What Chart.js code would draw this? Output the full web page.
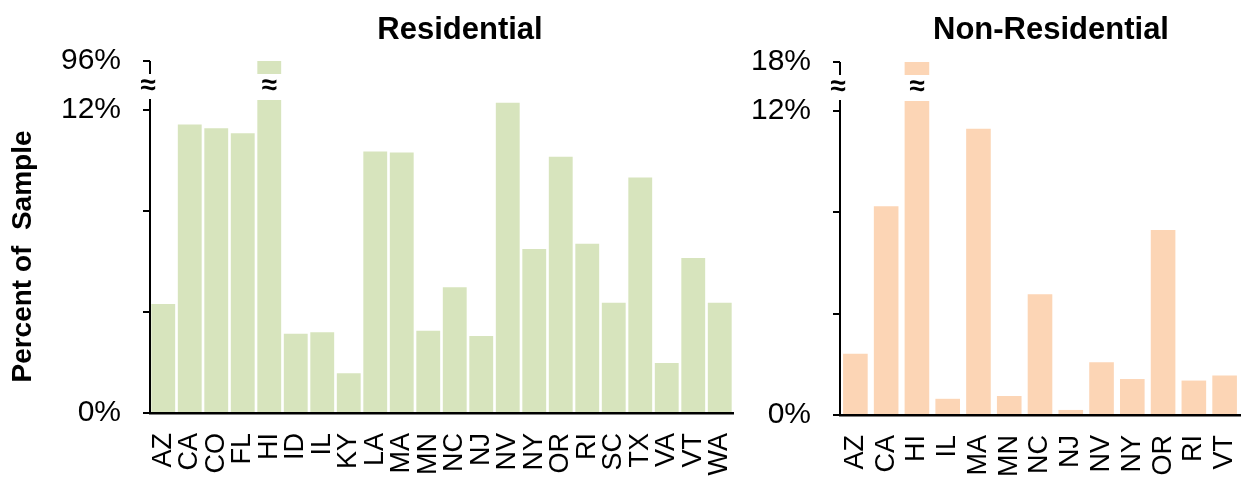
<!DOCTYPE html>
<html>
<head>
<meta charset="utf-8">
<script src="https://cdn.jsdelivr.net/npm/chart.js@4/dist/chart.umd.min.js"></script>
<style>
    body { margin: 0; background: #fff; }
    #wrap { position: relative; width: 1243px; height: 483px; }
    .panel { position: absolute; top: 0; height: 483px; }
</style>
</head>
<body>
<div id="wrap">
    <div class="panel" style="left:0;width:745px"><canvas id="residential-chart"></canvas></div>
    <div class="panel" style="left:745px;width:498px"><canvas id="non-residential-chart"></canvas></div>
</div>
<script>
const residentialStates = ['AZ', 'CA', 'CO', 'FL', 'HI', 'ID', 'IL', 'KY', 'LA', 'MA', 'MN',
    'NC', 'NJ', 'NV', 'NY', 'OR', 'RI', 'SC', 'TX', 'VA', 'VT', 'WA'];
const residentialPct = [4.32, 11.43, 11.28, 11.08, 96, 3.14, 3.2, 1.57, 10.36, 10.32, 3.26,
    4.98, 3.05, 12.29, 6.5, 10.15, 6.71, 4.37, 9.33, 1.98, 6.14, 4.37];

const nonResidentialStates = ['AZ', 'CA', 'HI', 'IL', 'MA', 'MN', 'NC', 'NJ', 'NV', 'NY', 'OR', 'RI', 'VT'];
const nonResidentialPct = [2.42, 8.24, 18, 0.64, 11.3, 0.75, 4.77, 0.2, 2.08, 1.42, 7.31, 1.36, 1.56];

// lower (unbroken) part of the y axis
const lowerMax = 12.4;
const lowerStep = 2;
const labeledTicks = [0, 12];

const FONT = '"Liberation Sans", Arial, sans-serif';

// draws the axis break marks and the panel title
const breakMarks = {
    id: 'breakMarks',
    afterDatasetsDraw(chart, args, opts) {
        const { ctx, chartArea } = chart;
        const low = chart.scales.y;
        const top = chart.scales.yTop;
        const x = chart.scales.x;
        const ax = chartArea.left;
        const topY = top.getPixelForValue(opts.topMax);
        const breakY = top.getPixelForValue(opts.breakLow);
        const gapY = (breakY + low.getPixelForValue(lowerMax)) / 2;

        ctx.save();
        ctx.strokeStyle = '#000';
        ctx.lineWidth = 2;
        ctx.beginPath();
        ctx.moveTo(ax, topY);
        ctx.lineTo(ax, breakY);
        ctx.stroke();

        ctx.fillStyle = '#000';
        ctx.font = 'bold 28px ' + FONT;
        ctx.textAlign = 'center';
        ctx.textBaseline = 'middle';
        ctx.fillText('≈', ax - 2, gapY - 1);
        opts.values.forEach((v, i) => {
            if (v > lowerMax) ctx.fillText('≈', x.getPixelForValue(i), gapY - 1);
        });

        ctx.font = 'bold 31px ' + FONT;
        ctx.textBaseline = 'alphabetic';
        ctx.fillText(opts.title, opts.titleX, 39);
        ctx.restore();
    }
};

function renderBrokenBarChart(canvasId, cfg) {
    const elm = document.getElementById(canvasId);
    if (!elm) return;

    const topMax = Math.max(...cfg.values);
    const breakLow = topMax - 1;

    new Chart(elm.getContext('2d'), {
        type: 'bar',
        data: {
            labels: cfg.labels,
            datasets: [
                {
                    data: cfg.values.map(v => Math.min(v, lowerMax)),
                    yAxisID: 'y',
                    backgroundColor: cfg.color,
                    barPercentage: cfg.barPercentage,
                    categoryPercentage: 1,
                    grouped: false,
                },
                {
                    // part of the bar above the break
                    data: cfg.values.map(v => (v > lowerMax ? [breakLow, v] : null)),
                    yAxisID: 'yTop',
                    backgroundColor: cfg.color,
                    barPercentage: cfg.barPercentage,
                    categoryPercentage: 1,
                    grouped: false,
                },
            ],
        },
        options: {
            responsive: true,
            maintainAspectRatio: false,
            animation: false,
            layout: { padding: cfg.padding },
            plugins: {
                legend: { display: false },
                tooltip: { enabled: false },
                breakMarks: {
                    title: cfg.title,
                    titleX: cfg.titleX,
                    values: cfg.values,
                    topMax: topMax,
                    breakLow: breakLow,
                },
            },
            scales: {
                x: {
                    type: 'category',
                    grid: { display: false, drawTicks: false },
                    border: { display: true, color: '#000', width: 2.5 },
                    ticks: {
                        color: '#000',
                        font: { family: FONT, size: 27 },
                        minRotation: 90,
                        maxRotation: 90,
                        autoSkip: false,
                        padding: 20,
                    },
                    afterFit(scale) {
                        scale.height = cfg.xHeight;
                        scale.paddingLeft = 0;
                        scale.paddingRight = 0;
                    },
                },
                y: {
                    position: 'left',
                    stack: 'left',
                    stackWeight: cfg.lowerWeight,
                    min: 0,
                    max: lowerMax,
                    grid: { drawOnChartArea: false, drawTicks: true, tickLength: 7, color: '#000', lineWidth: 2 },
                    border: { display: true, color: '#000', width: 2 },
                    ticks: {
                        stepSize: lowerStep,
                        includeBounds: false,
                        color: '#000',
                        padding: 22,
                        font: { family: FONT, size: 30 },
                        callback: v => (labeledTicks.includes(v) ? v + '%' : ''),
                    },
                    title: {
                        display: !!cfg.axisTitle,
                        text: cfg.axisTitle || '',
                        color: '#000',
                        font: { family: FONT, size: 28, weight: 'bold' },
                        padding: { top: 6, bottom: 0 },
                    },
                    afterFit(scale) { scale.width = cfg.yWidth; },
                },
                yTop: {
                    position: 'left',
                    stack: 'left',
                    stackWeight: cfg.upperWeight,
                    min: topMax - 3,
                    max: topMax,
                    grid: { drawOnChartArea: false, drawTicks: true, tickLength: 7, color: '#000', lineWidth: 2 },
                    border: { display: false },
                    afterBuildTicks(scale) { scale.ticks = [{ value: topMax }]; },
                    ticks: {
                        color: '#000',
                        padding: 22,
                        font: { family: FONT, size: 30 },
                        callback: v => v + '%',
                    },
                    afterFit(scale) { scale.width = cfg.yWidth; },
                },
            },
        },
        plugins: [breakMarks],
    });
}

renderBrokenBarChart('residential-chart', {
    labels: residentialStates,
    values: residentialPct,
    color: '#D7E4BD',
    barPercentage: 0.9,
    title: 'Residential',
    titleX: 460,
    axisTitle: 'Percent of  Sample',
    padding: { top: 61, left: 0, right: 12, bottom: 0 },
    yWidth: 150,
    xHeight: 70,
    upperWeight: 39,
    lowerWeight: 313,
});

renderBrokenBarChart('non-residential-chart', {
    labels: nonResidentialStates,
    values: nonResidentialPct,
    color: '#FCD5B5',
    barPercentage: 0.8,
    title: 'Non-Residential',
    titleX: 306,
    padding: { top: 62, left: 0, right: 3, bottom: 0 },
    yWidth: 95,
    xHeight: 68,
    upperWeight: 39,
    lowerWeight: 314,
});
</script>
</body>
</html>
